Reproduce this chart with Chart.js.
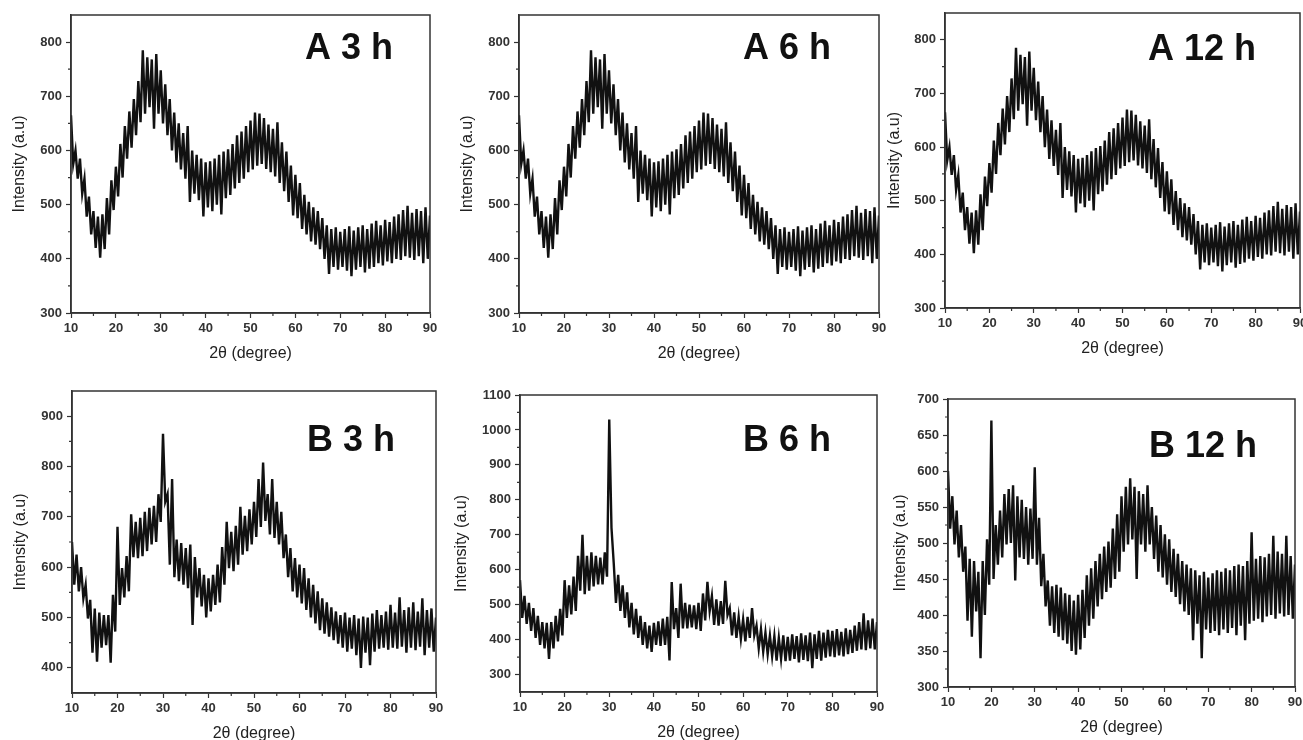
<!DOCTYPE html>
<html>
<head>
<meta charset="utf-8">
<script src="https://cdn.jsdelivr.net/npm/chart.js@4.4.1/dist/chart.umd.min.js"></script>
<style>
  html, body { margin: 0; padding: 0; background: #fff; overflow: hidden; }
  body { width: 1303px; height: 740px; position: relative; }
  canvas { position: absolute; }
</style>
</head>
<body>
<canvas id="a3"></canvas>
<canvas id="a6"></canvas>
<canvas id="a12"></canvas>
<canvas id="b3"></canvas>
<canvas id="b6"></canvas>
<canvas id="b12"></canvas>
<script>
// scan positions (2θ), every half degree from 10 to 90
const angles = [];
for (let a = 10; a <= 90; a += 0.5) angles.push(a);

const xTicks = [10, 20, 30, 40, 50, 60, 70, 80, 90];
const ticksA = [300, 400, 500, 600, 700, 800];
const ticksB3 = [400, 500, 600, 700, 800, 900];
const ticksB6 = [300, 400, 500, 600, 700, 800, 900, 1000, 1100];
const ticksB12 = [300, 350, 400, 450, 500, 550, 600, 650, 700];

// intensity, alternating top / bottom of the noise band
// (the three A patterns are the same trace)
const seriesA = [
  665, 575, 600, 548, 585, 520, 548, 478, 515, 445,
  488, 420, 478, 402, 482, 418, 512, 445, 545, 490,
  570, 515, 612, 550, 645, 585, 672, 605, 695, 628,
  728, 652, 785, 668, 772, 680, 768, 640, 778, 668,
  748, 650, 722, 628, 695, 600, 670, 578, 650, 565,
  632, 548, 645, 505, 600, 520, 592, 508, 585, 478,
  578, 495, 580, 488, 585, 500, 592, 482, 598, 512,
  602, 518, 612, 530, 628, 540, 635, 548, 645, 560,
  655, 565, 670, 572, 668, 575, 660, 566, 648, 560,
  640, 552, 652, 540, 615, 525, 598, 505, 572, 480,
  555, 475, 540, 455, 518, 445, 505, 432, 495, 426,
  488, 418, 475, 400, 462, 372, 455, 385, 458, 380,
  450, 385, 455, 378, 460, 368, 452, 380, 458, 385,
  462, 375, 455, 382, 465, 385, 470, 392, 462, 388,
  472, 395, 468, 392, 478, 400, 482, 398, 490, 405,
  498, 402, 485, 398, 492, 405, 488, 392, 495, 400,
  480
];

const seriesB3 = [
  650, 565, 625, 552, 600, 538, 565, 498, 535, 430,
  518, 412, 510, 440, 505, 445, 505, 410, 545, 472,
  680, 525, 598, 540, 622, 552, 705, 620, 690, 618,
  698, 622, 710, 632, 718, 645, 722, 650, 745, 690,
  865, 730, 745, 605, 775, 580, 655, 572, 648, 565,
  638, 558, 645, 485, 620, 540, 598, 522, 585, 500,
  578, 512, 585, 525, 605, 530, 640, 565, 690, 598,
  670, 592, 682, 605, 720, 625, 702, 632, 715, 645,
  730, 660, 775, 680, 808, 692, 745, 665, 775, 658,
  730, 645, 710, 618, 665, 580, 638, 552, 618, 540,
  605, 528, 598, 515, 578, 500, 565, 488, 552, 475,
  538, 468, 530, 462, 520, 455, 512, 448, 505, 440,
  510, 432, 500, 438, 505, 425, 498, 400, 502, 430,
  500, 405, 508, 432, 515, 438, 505, 440, 512, 436,
  525, 440, 510, 438, 540, 442, 515, 430, 520, 440,
  530, 435, 512, 442, 538, 425, 515, 440, 518, 432,
  500
];

const seriesB6 = [
  570, 462, 525, 445, 505, 425, 490, 405, 468, 385,
  450, 375, 448, 345, 450, 375, 468, 395, 488, 412,
  570, 462, 555, 472, 580, 482, 640, 540, 700, 530,
  640, 540, 650, 552, 640, 558, 635, 558, 650, 580,
  1030, 720, 620, 505, 585, 482, 555, 462, 535, 435,
  505, 415, 488, 405, 468, 385, 450, 375, 440, 365,
  448, 385, 452, 382, 460, 385, 465, 340, 565, 430,
  490, 405, 560, 432, 505, 432, 500, 435, 498, 430,
  505, 425, 532, 455, 565, 482, 525, 442, 515, 440,
  510, 445, 568, 470, 490, 412, 478, 405, 465, 402,
  458, 395, 465, 405, 490, 412, 440, 375, 430, 365,
  420, 358, 412, 352, 410, 340, 405, 345, 412, 338,
  408, 340, 415, 345, 410, 335, 418, 342, 412, 338,
  420, 318, 415, 345, 425, 340, 420, 348, 428, 352,
  425, 350, 430, 355, 422, 352, 432, 358, 428, 362,
  440, 368, 450, 372, 475, 370, 455, 375, 460, 372,
  450
];

const seriesB12 = [
  600, 520, 565, 498, 545, 480, 525, 460, 495, 392,
  478, 370, 475, 405, 460, 340, 475, 400, 505, 442,
  670, 450, 525, 470, 545, 480, 568, 498, 575, 500,
  580, 448, 565, 480, 560, 478, 550, 470, 548, 478,
  605, 470, 535, 440, 485, 412, 448, 385, 440, 375,
  442, 370, 438, 365, 430, 360, 428, 350, 420, 345,
  428, 352, 435, 368, 455, 385, 465, 395, 475, 412,
  485, 422, 495, 432, 502, 438, 520, 450, 540, 460,
  565, 488, 578, 498, 590, 505, 578, 450, 572, 498,
  568, 488, 580, 498, 550, 478, 538, 460, 525, 452,
  512, 442, 505, 432, 492, 425, 485, 415, 475, 405,
  470, 400, 465, 365, 462, 388, 455, 340, 460, 380,
  452, 375, 458, 378, 462, 372, 460, 380, 465, 375,
  462, 382, 468, 372, 470, 385, 468, 365, 475, 388,
  515, 392, 478, 395, 482, 390, 480, 398, 485, 400,
  510, 395, 488, 402, 485, 398, 510, 400, 482, 395,
  470
];

const AXIS_W = 71, AXIS_H = 50, PAD_T = 15, PAD_R = 14;
const FONT = '"Liberation Sans", Arial, Helvetica, sans-serif';

const panels = [
  { id: 'a3',  label: 'A 3 h',  data: seriesA,   yTicks: ticksA,   yMin: 300, yMax: 850,  area: { l: 71,  t: 15,  r: 430,  b: 313 }, labelAt: [305, 59],   yTitleGap: 51 },
  { id: 'a6',  label: 'A 6 h',  data: seriesA,   yTicks: ticksA,   yMin: 300, yMax: 850,  area: { l: 519, t: 15,  r: 879,  b: 313 }, labelAt: [743, 59],   yTitleGap: 51 },
  { id: 'a12', label: 'A 12 h', data: seriesA,   yTicks: ticksA,   yMin: 300, yMax: 850,  area: { l: 945, t: 13,  r: 1300, b: 308 }, labelAt: [1148, 60],  yTitleGap: 50 },
  { id: 'b3',  label: 'B 3 h',  data: seriesB3,  yTicks: ticksB3,  yMin: 350, yMax: 950,  area: { l: 72,  t: 391, r: 436,  b: 693 }, labelAt: [307, 451],  yTitleGap: 51 },
  { id: 'b6',  label: 'B 6 h',  data: seriesB6,  yTicks: ticksB6,  yMin: 250, yMax: 1100, area: { l: 520, t: 395, r: 877,  b: 692 }, labelAt: [743, 451],  yTitleGap: 58 },
  { id: 'b12', label: 'B 12 h', data: seriesB12, yTicks: ticksB12, yMin: 300, yMax: 700,  area: { l: 948, t: 399, r: 1295, b: 687 }, labelAt: [1149, 457], yTitleGap: 47 }
];

// small unlabelled ticks halfway between the labelled ones
function minorTicks(major, min, max) {
    const step = major[1] - major[0];
    const out = [];
    major.forEach(v => {
        [v - step / 2, v + step / 2].forEach(m => {
            if (m > min && m < max && !out.includes(m)) out.push(m);
        });
    });
    return out;
}

const panelDecor = {
    id: 'panelDecor',
    afterDatasetsDraw(chart, args, opts) {
        const { ctx, chartArea: area, scales: { x, y } } = chart;
        ctx.save();
        ctx.strokeStyle = '#333';
        ctx.lineWidth = 1.5;
        ctx.strokeRect(area.left, area.top, area.right - area.left, area.bottom - area.top);

        ctx.lineWidth = 1.2;
        ctx.beginPath();
        opts.xMinor.forEach(v => {
            const px = x.getPixelForValue(v);
            ctx.moveTo(px, area.bottom);
            ctx.lineTo(px, area.bottom + 3);
        });
        opts.yMinor.forEach(v => {
            const py = y.getPixelForValue(v);
            ctx.moveTo(area.left, py);
            ctx.lineTo(area.left - 3, py);
        });
        ctx.stroke();

        ctx.font = 'bold 36px ' + FONT;
        ctx.fillStyle = '#111';
        ctx.textAlign = 'left';
        ctx.textBaseline = 'alphabetic';
        ctx.fillText(opts.label, opts.labelX, opts.labelY);
        ctx.restore();
    }
};

panels.forEach(p => {
    const canvas = document.getElementById(p.id);
    const left = p.area.l - AXIS_W;
    const top = p.area.t - PAD_T;
    const width = p.area.r - p.area.l + AXIS_W + PAD_R;
    const height = p.area.b - p.area.t + PAD_T + AXIS_H;
    canvas.width = width;
    canvas.height = height;
    canvas.style.left = left + 'px';
    canvas.style.top = top + 'px';
    canvas.style.width = width + 'px';
    canvas.style.height = height + 'px';

    new Chart(canvas, {
        type: 'line',
        data: {
            datasets: [{
                data: angles.map((a, i) => ({ x: a, y: p.data[i] })),
                borderColor: '#111',
                borderWidth: 2.4,
                pointRadius: 0,
                tension: 0,
                fill: false
            }]
        },
        options: {
            responsive: false,
            animation: false,
            devicePixelRatio: 1,
            layout: { padding: { top: PAD_T, right: PAD_R, left: 0, bottom: 0 } },
            plugins: {
                legend: { display: false },
                tooltip: { enabled: false },
                panelDecor: {
                    label: p.label,
                    labelX: p.labelAt[0] - left,
                    labelY: p.labelAt[1] - top,
                    xMinor: minorTicks(xTicks, 10, 90),
                    yMinor: minorTicks(p.yTicks, p.yMin, p.yMax)
                }
            },
            scales: {
                x: {
                    type: 'linear',
                    min: 10,
                    max: 90,
                    afterBuildTicks: s => { s.ticks = xTicks.map(v => ({ value: v })); },
                    afterFit: s => { s.height = AXIS_H; },
                    grid: { drawOnChartArea: false, drawTicks: true, tickLength: 5, tickColor: '#333', tickWidth: 1.2 },
                    border: { display: true, color: '#333', width: 1.5 },
                    ticks: { color: '#333', padding: 3, maxRotation: 0, autoSkip: false, callback: v => String(v), font: { family: FONT, size: 13, weight: 'bold' } },
                    title: { display: true, text: '2θ (degree)', color: '#222', padding: { top: 0, bottom: 0 }, font: { family: FONT, size: 16 } }
                },
                y: {
                    min: p.yMin,
                    max: p.yMax,
                    afterBuildTicks: s => { s.ticks = p.yTicks.map(v => ({ value: v })); },
                    afterFit: s => { s.width = AXIS_W; },
                    grid: { drawOnChartArea: false, drawTicks: true, tickLength: 5, tickColor: '#333', tickWidth: 1.2 },
                    border: { display: true, color: '#333', width: 1.5 },
                    ticks: { color: '#333', padding: 4, autoSkip: false, callback: v => String(v), font: { family: FONT, size: 13, weight: 'bold' } },
                    title: { display: true, text: 'Intensity (a.u)', color: '#222', padding: { top: AXIS_W - p.yTitleGap - 9.6, bottom: 0 }, font: { family: FONT, size: 16 } }
                }
            }
        },
        plugins: [panelDecor]
    });
});
</script>
</body>
</html>
